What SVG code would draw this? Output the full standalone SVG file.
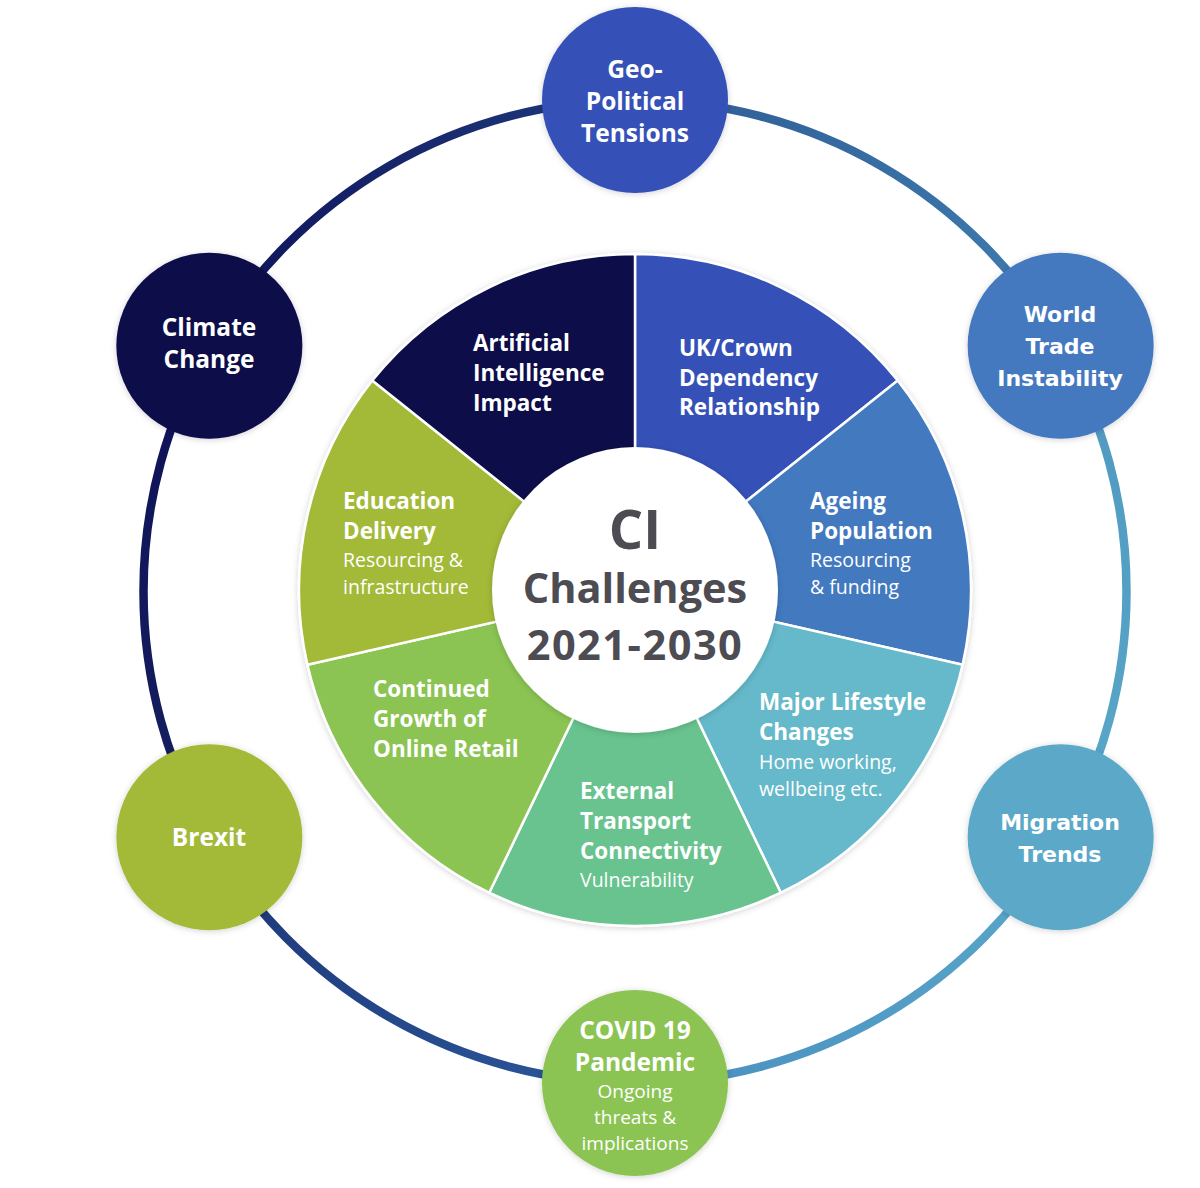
<svg xmlns="http://www.w3.org/2000/svg" width="1200" height="1188" viewBox="0 0 1200 1188">
<defs>
<style>
.ring{fill:none;stroke-width:8.5;stroke-linecap:butt}
.seg{stroke:#ffffff;stroke-width:2.5;stroke-linejoin:round}
.b{font-family:"Open Sans","Noto Sans",sans-serif;font-weight:700;font-size:22.5px;fill:#ffffff}
.r{font-family:"Open Sans","Noto Sans",sans-serif;font-weight:400;font-size:19.5px;fill:#ffffff}
.nb{font-family:"Open Sans","Noto Sans",sans-serif;font-weight:700;font-size:24.5px;fill:#ffffff;text-anchor:middle}
.vb{font-family:"DejaVu Sans",Verdana,sans-serif;font-weight:700;font-size:22px;fill:#ffffff;text-anchor:middle}
.nr{font-family:"Open Sans","Noto Sans",sans-serif;font-weight:400;font-size:19px;fill:#ffffff;text-anchor:middle}
.c{font-family:"Open Sans","Noto Sans",sans-serif;font-weight:700;font-size:41.5px;fill:#4c4c52;text-anchor:middle}
</style>
<filter id="sh" x="-20%" y="-20%" width="140%" height="140%">
<feDropShadow dx="0" dy="1" stdDeviation="3" flood-color="#000000" flood-opacity="0.18"/>
</filter>
<linearGradient id="g1" gradientUnits="userSpaceOnUse" x1="209" y1="346" x2="635" y2="100"><stop offset="0" stop-color="#0e1158"/><stop offset="1" stop-color="#1f3a7c"/></linearGradient>
<linearGradient id="g2" gradientUnits="userSpaceOnUse" x1="635" y1="100" x2="1061" y2="346"><stop offset="0" stop-color="#2f5c96"/><stop offset="1" stop-color="#3f7eb0"/></linearGradient>
<linearGradient id="g3" gradientUnits="userSpaceOnUse" x1="1061" y1="346" x2="1061" y2="837"><stop offset="0" stop-color="#4f98c0"/><stop offset="1" stop-color="#5aa8c9"/></linearGradient>
<linearGradient id="g4" gradientUnits="userSpaceOnUse" x1="1061" y1="837" x2="635" y2="1083"><stop offset="0" stop-color="#5aa8c9"/><stop offset="1" stop-color="#4a8fc0"/></linearGradient>
<linearGradient id="g5" gradientUnits="userSpaceOnUse" x1="635" y1="1083" x2="209" y2="837"><stop offset="0" stop-color="#2b5a9c"/><stop offset="1" stop-color="#1d3577"/></linearGradient>
<linearGradient id="g6" gradientUnits="userSpaceOnUse" x1="209" y1="837" x2="209" y2="346"><stop offset="0" stop-color="#15205f"/><stop offset="1" stop-color="#0e1158"/></linearGradient>
</defs>
<rect width="1200" height="1188" fill="#ffffff"/>

<g id="connectors">
<path class="ring" stroke="url(#g1)" d="M209.35,345.75 A491.5,491.5 0 0 1 635,100"/>
<path class="ring" stroke="url(#g2)" d="M635,100 A491.5,491.5 0 0 1 1060.65,345.75"/>
<path class="ring" stroke="url(#g3)" d="M1060.65,345.75 A491.5,491.5 0 0 1 1060.65,837.25"/>
<path class="ring" stroke="url(#g4)" d="M1060.65,837.25 A491.5,491.5 0 0 1 635,1083"/>
<path class="ring" stroke="url(#g5)" d="M635,1083 A491.5,491.5 0 0 1 209.35,837.25"/>
<path class="ring" stroke="url(#g6)" d="M209.35,837.25 A491.5,491.5 0 0 1 209.35,345.75"/>
</g>

<g id="pie" filter="url(#sh)">
<g id="seg-uk">
<path class="seg" fill="#3451b7" d="M635,590 L635,254 A336,336 0 0 1 897.70,380.51 Z"/>
</g>
<g id="seg-ageing">
<path class="seg" fill="#4279bf" d="M635,590 L897.70,380.51 A336,336 0 0 1 962.58,664.77 Z"/>
</g>
<g id="seg-lifestyle">
<path class="seg" fill="#65b9ca" d="M635,590 L962.58,664.77 A336,336 0 0 1 780.79,892.73 Z"/>
</g>
<g id="seg-transport">
<path class="seg" fill="#67c38e" d="M635,590 L780.79,892.73 A336,336 0 0 1 489.21,892.73 Z"/>
</g>
<g id="seg-growth">
<path class="seg" fill="#8bc453" d="M635,590 L489.21,892.73 A336,336 0 0 1 307.42,664.77 Z"/>
</g>
<g id="seg-education">
<path class="seg" fill="#a3b937" d="M635,590 L307.42,664.77 A336,336 0 0 1 372.30,380.51 Z"/>
</g>
<g id="seg-ai">
<path class="seg" fill="#0b0948" d="M635,590 L372.30,380.51 A336,336 0 0 1 635,254 Z"/>
</g>
</g>

<g id="pie-labels">
<g id="label-ai">
<text class="b" x="473" y="351">Artificial</text>
<text class="b" x="473" y="381">Intelligence</text>
<text class="b" x="473" y="411">Impact</text>
</g>
<g id="label-uk">
<text class="b" x="679" y="356">UK/Crown</text>
<text class="b" x="679" y="386">Dependency</text>
<text class="b" x="679" y="415">Relationship</text>
</g>
<g id="label-ageing">
<text class="b" x="810" y="509">Ageing</text>
<text class="b" x="810" y="539">Population</text>
<text class="r" x="810" y="567">Resourcing</text>
<text class="r" x="810" y="594">&amp; funding</text>
</g>
<g id="label-lifestyle">
<text class="b" x="759" y="710">Major Lifestyle</text>
<text class="b" x="759" y="740">Changes</text>
<text class="r" x="759" y="769">Home working,</text>
<text class="r" x="759" y="796">wellbeing etc.</text>
</g>
<g id="label-transport">
<text class="b" x="580" y="799">External</text>
<text class="b" x="580" y="829">Transport</text>
<text class="b" x="580" y="859">Connectivity</text>
<text class="r" x="580" y="887">Vulnerability</text>
</g>
<g id="label-growth">
<text class="b" x="373" y="697">Continued</text>
<text class="b" x="373" y="727">Growth of</text>
<text class="b" x="373" y="757">Online Retail</text>
</g>
<g id="label-education">
<text class="b" x="343" y="509">Education</text>
<text class="b" x="343" y="539">Delivery</text>
<text class="r" x="343" y="567">Resourcing &amp;</text>
<text class="r" x="343" y="594">infrastructure</text>
</g>
</g>

<g id="center">
<circle cx="635" cy="590" r="143" fill="#ffffff" filter="url(#sh)"/>
<text class="c" x="635" y="549" style="font-size:54px">CI</text>
<text class="c" x="635" y="603">Challenges</text>
<text class="c" x="635" y="660" style="letter-spacing:1.5px">2021-2030</text>
</g>

<g id="node-geo">
<circle cx="635" cy="100" r="93" fill="#3451b7" filter="url(#sh)"/>
<text class="nb" x="635" y="78">Geo-</text>
<text class="nb" x="635" y="110">Political</text>
<text class="nb" x="635" y="142">Tensions</text>
</g>
<g id="node-worldtrade">
<circle cx="1060.65" cy="345.75" r="93" fill="#4479bf" filter="url(#sh)"/>
<text class="vb" x="1060" y="322">World</text>
<text class="vb" x="1060" y="354">Trade</text>
<text class="vb" x="1060" y="386">Instability</text>
</g>
<g id="node-migration">
<circle cx="1060.65" cy="837.25" r="93" fill="#5ba8c8" filter="url(#sh)"/>
<text class="vb" x="1060" y="830">Migration</text>
<text class="vb" x="1060" y="862">Trends</text>
</g>
<g id="node-covid">
<circle cx="635" cy="1083" r="93" fill="#8bc453" filter="url(#sh)"/>
<text class="nb" x="635" y="1039">COVID 19</text>
<text class="nb" x="635" y="1071">Pandemic</text>
<text class="nr" x="635" y="1098">Ongoing</text>
<text class="nr" x="635" y="1124">threats &amp;</text>
<text class="nr" x="635" y="1150">implications</text>
</g>
<g id="node-brexit">
<circle cx="209.35" cy="837.25" r="93" fill="#a3b937" filter="url(#sh)"/>
<text class="nb" x="209" y="846">Brexit</text>
</g>
<g id="node-climate">
<circle cx="209.35" cy="345.75" r="93" fill="#0b0948" filter="url(#sh)"/>
<text class="nb" x="209" y="336">Climate</text>
<text class="nb" x="209" y="368">Change</text>
</g>
</svg>
